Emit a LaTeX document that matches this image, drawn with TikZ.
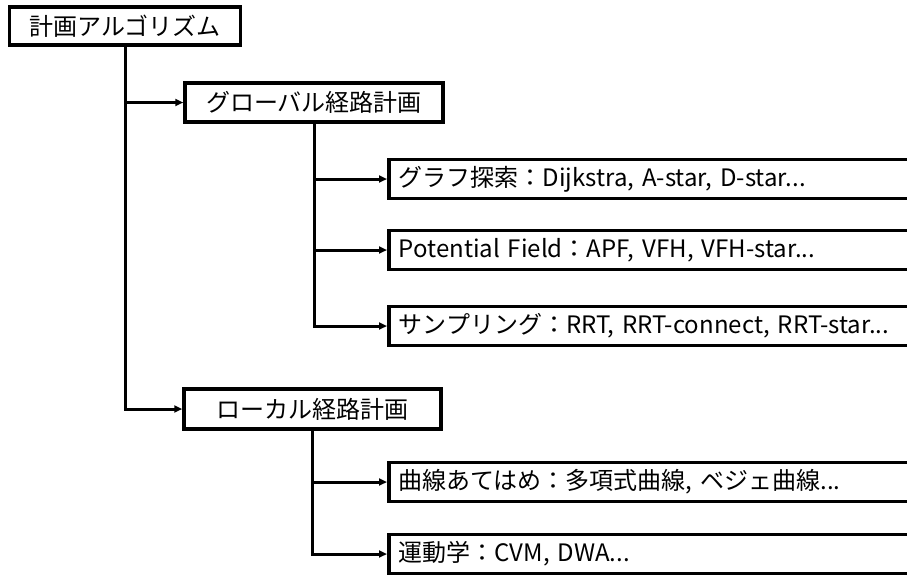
\documentclass[tikz,border=0pt]{standalone}
\usepackage{fontspec}
\setmainfont{Noto Sans CJK JP}
\usetikzlibrary{arrows.meta}
\tikzset{
  box/.style={draw=black, line width=3.5pt, fill=white, inner sep=0pt, font=\fontsize{24}{28}\selectfont},
  leafbox/.style={box, anchor=west, minimum height=39pt, text width=560pt, inner xsep=10pt, align=left},
  conn/.style={line width=3pt, -{Triangle[length=8pt,width=7pt]}}
}
\begin{document}
\begin{tikzpicture}[x=1pt,y=-1pt]
\useasboundingbox (0,0) rectangle (907,576);
\clip (0,0) rectangle (907,576);
\node[box, minimum width=231pt, minimum height=38pt] (root) at (125,26) {計画アルゴリズム};
\node[box, minimum width=258pt, minimum height=39pt] (glob) at (314,102.5) {グローバル経路計画};
\node[box, minimum width=257pt, minimum height=40pt] (loc) at (312.5,409) {ローカル経路計画};
\node[leafbox] (g1) at (387,179) {グラフ探索：Dijkstra, A-star, D-star...};
\node[leafbox] (g2) at (387,250) {Potential Field：APF, VFH, VFH-star...};
\node[leafbox] (g3) at (387,326) {サンプリング：RRT, RRT-connect, RRT-star...};
\node[leafbox] (l1) at (387,482) {曲線あてはめ：多項式曲線, ベジェ曲線...};
\node[leafbox] (l2) at (387,554) {運動学：CVM, DWA...};
\draw[conn] (root.south) |- (glob.west);
\draw[conn] (root.south) |- (loc.west);
\draw[conn] (glob.south) |- (g1.west);
\draw[conn] (glob.south) |- (g2.west);
\draw[conn] (glob.south) |- (g3.west);
\draw[conn] (loc.south) |- (l1.west);
\draw[conn] (loc.south) |- (l2.west);
\end{tikzpicture}
\end{document}
